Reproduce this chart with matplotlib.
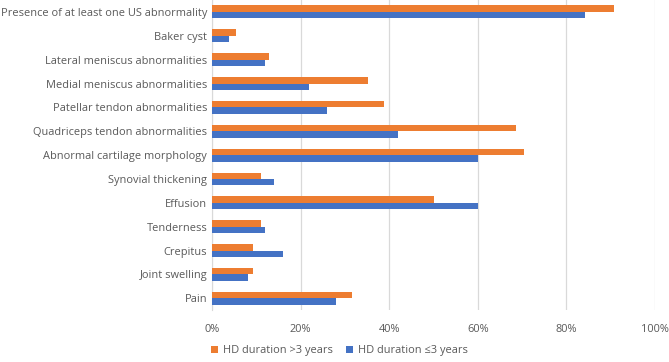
import numpy as np
import matplotlib
matplotlib.use('Agg')
import matplotlib.pyplot as plt
from matplotlib.ticker import PercentFormatter

categories = ['Presence of at least one US abnormality', 'Baker cyst',
              'Lateral meniscus abnormalities', 'Medial meniscus abnormalities',
              'Patellar tendon abnormalities', 'Quadriceps tendon abnormalities',
              'Abnormal cartilage morphology', 'Synovial thickening', 'Effusion',
              'Tenderness', 'Crepitus', 'Joint swelling', 'Pain']
over3 = [90.8, 5.5, 12.9, 35.2, 38.9, 68.6, 70.4, 11.0, 50.0, 11.0, 9.3, 9.3, 31.5]
under3 = [84.1, 3.9, 11.9, 21.9, 26.0, 42.0, 60.0, 14.0, 60.0, 11.9, 16.0, 8.0, 28.0]
xticks = [0, 20, 40, 60, 80, 100]

plt.rcParams['font.family'] = ['Open Sans', 'DejaVu Sans']
txt = '#595959'

fig = plt.figure(figsize=(6.69, 3.62), dpi=100)
ax = fig.add_axes([0.317, 0.143, 0.662, 0.857])

y = np.arange(len(categories))[::-1]
h = 0.27
ax.barh(y + h / 2, over3, height=h, color='#ED7D31', label='HD duration >3 years', zorder=3)
ax.barh(y - h / 2, under3, height=h, color='#4472C4', label='HD duration \u22643 years', zorder=3)

ax.set_xlim(0, 100)
ax.set_ylim(-0.5, len(categories) - 0.5)
ax.set_xticks(xticks)
ax.xaxis.set_major_formatter(PercentFormatter(decimals=0))
ax.set_yticks(y)
ax.set_yticklabels(categories)
ax.tick_params(axis='both', length=0, colors=txt, labelsize=7.9)
ax.tick_params(axis='x', pad=10)
ax.grid(axis='x', color='#D9D9D9', linewidth=0.9, zorder=0)
for s in ['top', 'right', 'bottom']:
    ax.spines[s].set_visible(False)
ax.spines['left'].set_color('#D9D9D9')

fig.legend(loc='lower center', bbox_to_anchor=(0.507, -0.012), ncol=2, frameon=False,
           fontsize=7.9, labelcolor=txt, handlelength=0.7, handleheight=0.7,
           handletextpad=0.4, columnspacing=1.2)

fig.savefig('out.png', dpi=100)
